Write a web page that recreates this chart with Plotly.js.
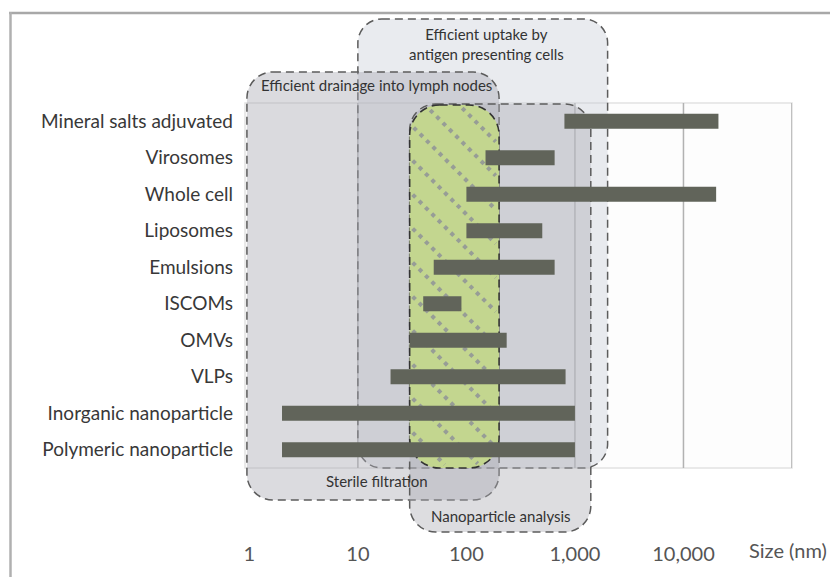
<!DOCTYPE html>
<html><head><meta charset="utf-8">
<script src="https://cdn.plot.ly/plotly-3.0.1.min.js"></script>
<style>html,body{margin:0;padding:0;background:#fff}#chart{width:830px;height:577px}</style>
</head><body><div id="chart"></div>
<script>
// ---- data ----
const categories = ['Mineral salts adjuvated','Virosomes','Whole cell','Liposomes','Emulsions','ISCOMs','OMVs','VLPs','Inorganic nanoparticle','Polymeric nanoparticle'];
const sizeMin = [800, 150, 100, 100, 50, 40, 30, 20, 2, 2];
const sizeMax = [21000, 650, 20000, 500, 650, 90, 235, 820, 1000, 1000];
const tickVals = [1, 10, 100, 1000, 10000];
const tickText = ['1', '10', '100', '1,000', '10,000'];
const gridVals = [10, 100, 1000, 10000, 100000];
const uptakeRange = [10, 2000];      // Efficient uptake by antigen presenting cells
const drainageRange = [0.95, 200];   // Efficient drainage into lymph nodes / Sterile filtration
const analysisRange = [30, 1400];    // Nanoparticle analysis
const optimalRange = [30, 200];      // green overlap

// ---- layout geometry ----
const W = 830, H = 577;
const M = {l: 245, r: 38, t: 103, b: 109};
const plotW = W - M.l - M.r, plotH = H - M.t - M.b;
const xRange = [-0.04, 5];
const pxPerDec = plotW / (xRange[1] - xRange[0]);
const py = p => (H - M.b - p) / plotH;   // page pixel y -> paper y
const X = l => Math.pow(10, l);

function roundRect(xa, xb, yTop, yBot, r) {
  const la = Math.log10(xa), lb = Math.log10(xb);
  const rx = r / pxPerDec, ry = r / plotH, k = 0.448;
  const P = (l, y) => X(l) + ',' + y;
  return 'M' + P(la + rx, yTop) +
    ' L' + P(lb - rx, yTop) +
    ' C' + P(lb - rx * k, yTop) + ' ' + P(lb, yTop - ry * k) + ' ' + P(lb, yTop - ry) +
    ' L' + P(lb, yBot + ry) +
    ' C' + P(lb, yBot + ry * k) + ' ' + P(lb - rx * k, yBot) + ' ' + P(lb - rx, yBot) +
    ' L' + P(la + rx, yBot) +
    ' C' + P(la + rx * k, yBot) + ' ' + P(la, yBot + ry * k) + ' ' + P(la, yBot + ry) +
    ' L' + P(la, yTop - ry) +
    ' C' + P(la, yTop - ry * k) + ' ' + P(la + rx * k, yTop) + ' ' + P(la + rx, yTop) + ' Z';
}

function hatchPath(xa, xb, yTop, yBot, r, step, offset) {
  const la = Math.log10(xa), lb = Math.log10(xb);
  const w = (lb - la) * pxPerDec, h = (yTop - yBot) * plotH;
  const ins = 3, rr = r - 1;
  const inside = (u, v) => {
    if (u < ins || u > w - ins || v < ins || v > h - ins) return false;
    const cx = Math.min(Math.max(u, rr), w - rr), cy = Math.min(Math.max(v, rr), h - rr);
    return (u - cx) ** 2 + (v - cy) ** 2 <= (rr - ins) ** 2;
  };
  const conv = (u, v) => X(la + u / pxPerDec) + ',' + (yTop - v / plotH);
  let d = '';
  for (let kk = -w + offset; kk < h; kk += step) {
    let start = null, last = null;
    for (let u = 0; u <= w; u += 0.5) {
      const v = u + kk;
      const ok = inside(u, v);
      if (ok && start === null) start = [u, v];
      if (ok) last = [u, v];
      if ((!ok || u + 0.5 > w) && start !== null) {
        if (last[0] - start[0] > 2) d += 'M' + conv(start[0], start[1]) + ' L' + conv(last[0], last[1]) + ' ';
        start = null;
      }
    }
  }
  return d;
}

const dashStyle = '8px,5px';
const shapes = [];
// plot frame
shapes.push({type: 'rect', xref: 'paper', yref: 'paper', x0: 0, x1: 1, y0: 0, y1: 1,
  line: {color: '#e2e2e2', width: 1.5}, fillcolor: 'rgba(0,0,0,0)', layer: 'below'});
// grid lines
gridVals.forEach(g => shapes.push({type: 'line', xref: 'x', yref: 'paper', x0: g, x1: g, y0: 0, y1: 1,
  line: {color: '#b2b2b2', width: 1.5}, layer: 'below'}));
// outer figure frame
shapes.push({type: 'line', xref: 'paper', yref: 'paper', x0: (9 - M.l) / plotW, x1: (W + 2 - M.l) / plotW,
  y0: py(13), y1: py(13), line: {color: '#a8a8a8', width: 2.5}, layer: 'below'});
shapes.push({type: 'line', xref: 'paper', yref: 'paper', x0: (10.5 - M.l) / plotW, x1: (10.5 - M.l) / plotW,
  y0: py(12), y1: py(H + 2), line: {color: '#b0b0b0', width: 2.5}, layer: 'below'});
// boxes
shapes.push({type: 'path', xref: 'x', yref: 'paper', path: roundRect(uptakeRange[0], uptakeRange[1], py(19), py(468), 24),
  fillcolor: 'rgba(196,202,214,0.38)', line: {color: '#5c5c5c', width: 1.5, dash: dashStyle}, layer: 'below'});
shapes.push({type: 'path', xref: 'x', yref: 'paper', path: roundRect(drainageRange[0], drainageRange[1], py(72), py(500), 26),
  fillcolor: 'rgba(170,170,178,0.42)', line: {color: '#5c5c5c', width: 1.5, dash: dashStyle}, layer: 'below'});
shapes.push({type: 'path', xref: 'x', yref: 'paper', path: roundRect(analysisRange[0], analysisRange[1], py(104), py(532), 26),
  fillcolor: 'rgba(170,170,178,0.40)', line: {color: '#5c5c5c', width: 1.5, dash: dashStyle}, layer: 'below'});
shapes.push({type: 'path', xref: 'x', yref: 'paper', path: roundRect(optimalRange[0], optimalRange[1], py(105), py(468), 30),
  fillcolor: '#c3d68f', line: {color: '#333333', width: 1.6, dash: dashStyle}, layer: 'below'});
shapes.push({type: 'path', xref: 'x', yref: 'paper', path: hatchPath(optimalRange[0], optimalRange[1], py(105), py(468), 30, 34, 6),
  line: {color: '#979d96', width: 4, dash: '4px,5px'}, layer: 'below'});

const annFont = {family: 'Lato, sans-serif', size: 15, color: '#333333'};
const px2x = p => (p - M.l) / plotW;
const annotations = [
  {text: 'Efficient uptake by<br>antigen presenting cells', x: px2x(486), y: py(44)},
  {text: 'Efficient drainage into lymph nodes', x: px2x(376), y: py(85)},
  {text: 'Sterile filtration', x: px2x(377), y: py(481)},
  {text: 'Nanoparticle analysis', x: px2x(501), y: py(516)},
].map(a => Object.assign({xref: 'paper', yref: 'paper', showarrow: false, xanchor: 'center', yanchor: 'middle', font: annFont}, a));
annotations.push({text: 'Size (nm)', xref: 'paper', yref: 'paper', x: px2x(788), y: py(550), showarrow: false,
  xanchor: 'center', yanchor: 'middle', font: {family: 'Lato, sans-serif', size: 20, color: '#555555'}});

const trace = {
  type: 'bar', orientation: 'h', y: categories,
  base: sizeMin, x: sizeMax.map((v, i) => v - sizeMin[i]),
  width: 0.41, marker: {color: '#61645a', line: {width: 0}}, hoverinfo: 'skip'
};

const layout = {
  width: W, height: H, margin: M,
  paper_bgcolor: '#ffffff', plot_bgcolor: '#fdfdfd',
  showlegend: false,
  font: {family: 'Lato, sans-serif'},
  xaxis: {type: 'log', range: xRange, tickvals: tickVals, ticktext: tickText, showgrid: false, zeroline: false,
    showline: false, ticks: '', ticklabelstandoff: 72, tickfont: {family: 'Lato, sans-serif', size: 20, color: '#555555'}, fixedrange: true},
  yaxis: {type: 'category', range: [9.5, -0.5], showgrid: false, zeroline: false, showline: false, ticks: '',
    ticklabelstandoff: 11, tickfont: {family: 'Lato, sans-serif', size: 19, color: '#383838'}, fixedrange: true},
  shapes: shapes, annotations: annotations
};

Plotly.newPlot('chart', [trace], layout, {displayModeBar: false, staticPlot: true});
</script></body></html>
